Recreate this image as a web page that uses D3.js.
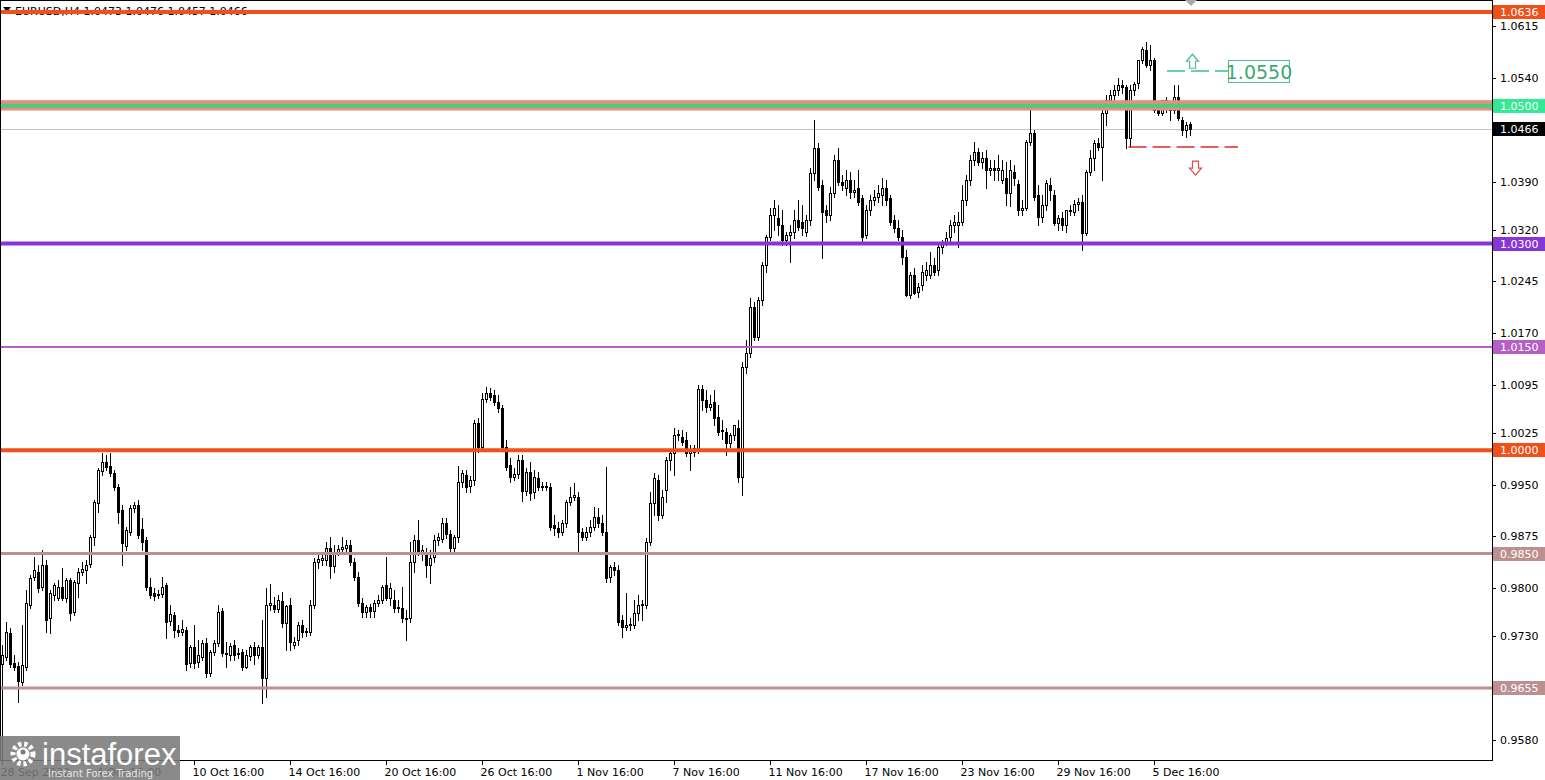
<!DOCTYPE html>
<html><head><meta charset="utf-8">
<script src="https://cdn.jsdelivr.net/npm/d3@7"></script>
<style>body{margin:0;background:#fff;overflow:hidden}svg{display:block}</style>
</head><body>
<svg id="c" width="1545" height="780"></svg>
<script>
// ---------------- DATA ----------------
const chartTitle = "EURUSD,H4  1.0473 1.0476 1.0457 1.0466";
const opens = [0.9690,0.9700,0.9735,0.9691,0.9687,0.9664,0.9685,0.9776,0.9816,0.9823,
0.9802,0.9834,0.9757,0.9790,0.9786,0.9802,0.9786,0.9812,0.9765,0.9807,
0.9823,0.9826,0.9835,0.9874,0.9924,0.9970,0.9983,0.9977,0.9967,0.9946,
0.9913,0.9861,0.9881,0.9916,0.9920,0.9885,0.9870,0.9802,0.9793,0.9790,
0.9791,0.9805,0.9752,0.9761,0.9739,0.9736,0.9739,0.9691,0.9714,0.9693,
0.9700,0.9720,0.9677,0.9707,0.9720,0.9767,0.9706,0.9703,0.9717,0.9704,
0.9707,0.9685,0.9701,0.9714,0.9703,0.9714,0.9670,0.9776,0.9776,0.9770,
0.9781,0.9749,0.9776,0.9717,0.9725,0.9747,0.9736,0.9736,0.9776,0.9838,
0.9841,0.9841,0.9858,0.9832,0.9852,0.9857,0.9858,0.9862,0.9838,0.9816,
0.9778,0.9765,0.9773,0.9767,0.9778,0.9783,0.9805,0.9786,0.9783,0.9771,
0.9771,0.9757,0.9757,0.9838,0.9870,0.9851,0.9848,0.9834,0.9845,0.9870,
0.9871,0.9894,0.9878,0.9858,0.9874,0.9954,0.9964,0.9948,0.9957,1.0039,
1.0004,1.0075,1.0083,1.0080,1.0070,1.0061,1.0004,0.9978,0.9961,0.9965,
0.9986,0.9941,0.9968,0.9939,0.9960,0.9946,0.9948,0.9946,0.9891,0.9887,
0.9881,0.9894,0.9925,0.9932,0.9932,0.9881,0.9874,0.9881,0.9889,0.9903,
0.9894,0.9881,0.9816,0.9831,0.9826,0.9754,0.9743,0.9747,0.9747,0.9764,
0.9776,0.9776,0.9867,0.9924,0.9957,0.9906,0.9942,0.9986,0.9996,1.0022,
1.0019,1.0015,0.9996,0.9997,1.0000,1.0089,1.0073,1.0063,1.0070,1.0048,
1.0029,1.0026,1.0010,1.0022,1.0033,0.9961,1.0121,1.0141,1.0208,1.0164,
1.0218,1.0269,1.0309,1.0341,1.0337,1.0327,1.0305,1.0312,1.0317,1.0334,
1.0331,1.0317,1.0334,1.0402,1.0439,1.0385,1.0349,1.0341,1.0373,1.0421,
1.0389,1.0380,1.0392,1.0375,1.0380,1.0366,1.0312,1.0349,1.0363,1.0367,
1.0370,1.0380,1.0366,1.0334,1.0323,1.0309,1.0280,1.0225,1.0254,1.0230,
1.0240,1.0254,1.0254,1.0269,1.0262,1.0295,1.0302,1.0309,1.0327,1.0327,
1.0331,1.0363,1.0392,1.0421,1.0433,1.0418,1.0424,1.0407,1.0409,1.0407,
1.0392,1.0395,1.0373,1.0404,1.0386,1.0349,1.0352,1.0447,1.0460,1.0370,
1.0338,1.0356,1.0385,1.0370,1.0330,1.0337,1.0327,1.0349,1.0346,1.0357,
1.0360,1.0315,1.0404,1.0424,1.0446,1.0440,1.0489,1.0508,1.0515,1.0523,
1.0530,1.0527,1.0453,1.0523,1.0533,1.0566,1.0581,1.0559,1.0566,1.0494,
1.0489,1.0508,1.0496,1.0494,1.0512,1.0479,1.0465,1.0473];
const highs = [0.9718,0.9751,0.9742,0.9703,0.9693,0.9747,0.9797,0.9819,0.9845,0.9834,
0.9855,0.9841,0.9797,0.9807,0.9812,0.9829,0.9815,0.9815,0.9812,0.9829,
0.9838,0.9841,0.9877,0.9928,0.9974,0.9996,0.9993,0.9996,0.9971,0.9951,
0.9920,0.9889,0.9920,0.9925,0.9928,0.9902,0.9874,0.9815,0.9800,0.9797,
0.9816,0.9807,0.9776,0.9765,0.9747,0.9754,0.9743,0.9717,0.9747,0.9725,
0.9725,0.9728,0.9710,0.9725,0.9776,0.9771,0.9722,0.9720,0.9725,0.9713,
0.9712,0.9710,0.9717,0.9722,0.9717,0.9754,0.9800,0.9806,0.9787,0.9790,
0.9794,0.9776,0.9786,0.9729,0.9751,0.9754,0.9742,0.9783,0.9844,0.9848,
0.9852,0.9867,0.9874,0.9862,0.9862,0.9874,0.9870,0.9870,0.9844,0.9823,
0.9786,0.9776,0.9777,0.9783,0.9790,0.9805,0.9845,0.9807,0.9797,0.9783,
0.9802,0.9768,0.9867,0.9877,0.9899,0.9862,0.9858,0.9855,0.9877,0.9880,
0.9902,0.9902,0.9884,0.9877,0.9977,0.9971,0.9971,0.9962,1.0044,1.0047,
1.0083,1.0092,1.0090,1.0087,1.0080,1.0066,1.0015,0.9989,0.9974,0.9993,
0.9993,0.9974,0.9983,0.9971,0.9968,0.9954,0.9954,0.9952,0.9906,0.9896,
0.9899,0.9928,0.9946,0.9952,0.9939,0.9887,0.9889,0.9899,0.9917,0.9916,
0.9906,0.9975,0.9834,0.9838,0.9834,0.9761,0.9793,0.9757,0.9783,0.9790,
0.9783,0.9872,0.9939,0.9967,0.9964,0.9942,0.9990,1.0000,1.0032,1.0029,
1.0029,1.0026,1.0007,1.0007,1.0095,1.0095,1.0087,1.0080,1.0087,1.0066,
1.0044,1.0032,1.0025,1.0036,1.0044,1.0128,1.0160,1.0221,1.0215,1.0222,
1.0273,1.0312,1.0352,1.0363,1.0356,1.0349,1.0317,1.0327,1.0349,1.0363,
1.0356,1.0341,1.0409,1.0479,1.0446,1.0392,1.0356,1.0382,1.0428,1.0439,
1.0399,1.0407,1.0404,1.0392,1.0407,1.0370,1.0356,1.0370,1.0378,1.0385,
1.0395,1.0392,1.0370,1.0341,1.0334,1.0320,1.0291,1.0259,1.0264,1.0243,
1.0269,1.0273,1.0288,1.0279,1.0298,1.0305,1.0317,1.0334,1.0341,1.0346,
1.0385,1.0399,1.0428,1.0447,1.0439,1.0433,1.0436,1.0421,1.0421,1.0428,
1.0421,1.0418,1.0421,1.0414,1.0392,1.0363,1.0450,1.0498,1.0465,1.0385,
1.0370,1.0392,1.0395,1.0378,1.0341,1.0346,1.0349,1.0356,1.0363,1.0366,
1.0370,1.0407,1.0436,1.0450,1.0453,1.0508,1.0515,1.0523,1.0530,1.0540,
1.0537,1.0530,1.0530,1.0534,1.0566,1.0585,1.0592,1.0588,1.0569,1.0501,
1.0508,1.0512,1.0505,1.0530,1.0530,1.0483,1.0476,1.0476];
const lows = [0.9536,0.9696,0.9685,0.9681,0.9635,0.9659,0.9681,0.9771,0.9812,0.9794,
0.9797,0.9736,0.9735,0.9783,0.9783,0.9783,0.9780,0.9754,0.9761,0.9787,
0.9819,0.9807,0.9831,0.9862,0.9910,0.9964,0.9971,0.9962,0.9942,0.9895,
0.9834,0.9855,0.9877,0.9910,0.9872,0.9855,0.9797,0.9786,0.9783,0.9786,
0.9787,0.9728,0.9747,0.9729,0.9730,0.9732,0.9681,0.9685,0.9684,0.9685,
0.9696,0.9671,0.9672,0.9703,0.9716,0.9701,0.9685,0.9696,0.9696,0.9699,
0.9681,0.9684,0.9696,0.9690,0.9699,0.9633,0.9642,0.9768,0.9765,0.9765,
0.9743,0.9710,0.9710,0.9713,0.9717,0.9729,0.9730,0.9732,0.9771,0.9829,
0.9834,0.9834,0.9815,0.9823,0.9848,0.9851,0.9852,0.9834,0.9812,0.9774,
0.9758,0.9758,0.9758,0.9758,0.9774,0.9778,0.9783,0.9776,0.9765,0.9765,
0.9751,0.9725,0.9751,0.9823,0.9848,0.9841,0.9816,0.9807,0.9838,0.9862,
0.9867,0.9872,0.9852,0.9852,0.9867,0.9946,0.9939,0.9939,0.9949,0.9997,
1.0000,1.0070,1.0073,1.0066,1.0055,1.0000,0.9971,0.9954,0.9957,0.9960,
0.9926,0.9935,0.9928,0.9930,0.9942,0.9942,0.9942,0.9884,0.9877,0.9874,
0.9877,0.9888,0.9920,0.9928,0.9852,0.9870,0.9870,0.9875,0.9884,0.9889,
0.9877,0.9809,0.9809,0.9819,0.9747,0.9729,0.9739,0.9739,0.9742,0.9754,
0.9754,0.9771,0.9862,0.9906,0.9899,0.9902,0.9925,0.9971,0.9964,1.0015,
1.0007,0.9991,0.9971,0.9991,0.9996,1.0058,1.0055,1.0058,1.0036,1.0022,
1.0017,0.9993,1.0004,1.0015,0.9954,0.9935,1.0112,1.0135,1.0160,1.0160,
1.0211,1.0259,1.0305,1.0320,1.0312,1.0298,1.0298,1.0273,1.0308,1.0320,
1.0312,1.0311,1.0327,1.0392,1.0378,1.0279,1.0331,1.0334,1.0367,1.0385,
1.0378,1.0370,1.0366,1.0367,1.0356,1.0302,1.0308,1.0341,1.0356,1.0360,
1.0356,1.0356,1.0327,1.0317,1.0305,1.0271,1.0224,1.0221,1.0227,1.0222,
1.0233,1.0247,1.0250,1.0254,1.0254,1.0286,1.0298,1.0302,1.0317,1.0295,
1.0327,1.0356,1.0385,1.0414,1.0414,1.0409,1.0380,1.0399,1.0392,1.0392,
1.0388,1.0356,1.0354,1.0385,1.0341,1.0341,1.0349,1.0443,1.0363,1.0327,
1.0331,1.0349,1.0363,1.0327,1.0320,1.0320,1.0317,1.0341,1.0341,1.0349,
1.0291,1.0312,1.0399,1.0407,1.0436,1.0392,1.0472,1.0501,1.0501,1.0515,
1.0518,1.0439,1.0440,1.0515,1.0525,1.0562,1.0556,1.0552,1.0491,1.0486,
1.0486,1.0491,1.0479,1.0489,1.0479,1.0457,1.0455,1.0457];
const closes = [0.9703,0.9736,0.9690,0.9685,0.9665,0.9688,0.9778,0.9815,0.9826,0.9800,
0.9834,0.9754,0.9793,0.9805,0.9802,0.9786,0.9812,0.9764,0.9809,0.9823,
0.9828,0.9834,0.9874,0.9925,0.9971,0.9983,0.9975,0.9967,0.9946,0.9910,
0.9866,0.9884,0.9916,0.9920,0.9877,0.9867,0.9802,0.9790,0.9789,0.9791,
0.9802,0.9751,0.9762,0.9739,0.9736,0.9741,0.9690,0.9714,0.9691,0.9703,
0.9720,0.9677,0.9707,0.9720,0.9765,0.9706,0.9704,0.9716,0.9703,0.9706,
0.9685,0.9703,0.9714,0.9703,0.9714,0.9670,0.9776,0.9778,0.9770,0.9783,
0.9749,0.9774,0.9722,0.9722,0.9747,0.9736,0.9738,0.9776,0.9838,0.9842,
0.9844,0.9858,0.9832,0.9852,0.9857,0.9860,0.9862,0.9838,0.9816,0.9778,
0.9765,0.9773,0.9767,0.9778,0.9783,0.9802,0.9786,0.9800,0.9771,0.9773,
0.9757,0.9755,0.9838,0.9870,0.9851,0.9855,0.9834,0.9844,0.9870,0.9874,
0.9894,0.9878,0.9858,0.9874,0.9954,0.9967,0.9946,0.9957,1.0039,1.0004,
1.0075,1.0083,1.0078,1.0070,1.0061,1.0004,0.9975,0.9961,0.9965,0.9986,
0.9941,0.9968,0.9938,0.9961,0.9946,0.9948,0.9946,0.9889,0.9887,0.9881,
0.9894,0.9925,0.9932,0.9935,0.9881,0.9874,0.9881,0.9889,0.9903,0.9894,
0.9881,0.9815,0.9831,0.9826,0.9751,0.9743,0.9747,0.9748,0.9764,0.9776,
0.9777,0.9867,0.9924,0.9960,0.9906,0.9932,0.9986,0.9996,1.0022,1.0023,
1.0012,0.9996,1.0000,1.0003,1.0089,1.0073,1.0063,1.0067,1.0047,1.0026,
1.0028,1.0010,1.0022,1.0036,0.9961,1.0121,1.0141,1.0208,1.0164,1.0218,
1.0269,1.0309,1.0341,1.0352,1.0327,1.0305,1.0312,1.0317,1.0334,1.0324,
1.0323,1.0334,1.0402,1.0439,1.0382,1.0346,1.0341,1.0373,1.0421,1.0389,
1.0385,1.0392,1.0375,1.0378,1.0360,1.0309,1.0349,1.0363,1.0367,1.0373,
1.0380,1.0363,1.0331,1.0323,1.0309,1.0280,1.0225,1.0254,1.0228,1.0237,
1.0259,1.0262,1.0269,1.0259,1.0295,1.0302,1.0308,1.0327,1.0331,1.0331,
1.0363,1.0392,1.0421,1.0433,1.0418,1.0424,1.0407,1.0409,1.0407,1.0409,
1.0407,1.0373,1.0407,1.0395,1.0349,1.0352,1.0447,1.0461,1.0367,1.0338,
1.0356,1.0388,1.0378,1.0330,1.0337,1.0327,1.0349,1.0347,1.0357,1.0360,
1.0315,1.0404,1.0424,1.0446,1.0440,1.0489,1.0508,1.0515,1.0523,1.0530,
1.0527,1.0453,1.0523,1.0531,1.0566,1.0582,1.0559,1.0566,1.0494,1.0489,
1.0508,1.0496,1.0494,1.0512,1.0482,1.0465,1.0472,1.0466];

const timeTickBars = [0,24,48,72,96,120,144,168,192,216,240,264,288];
const timeTickLabels = ["28 Sep 2022","4 Oct 16:00","10 Oct 16:00","14 Oct 16:00","20 Oct 16:00","26 Oct 16:00","1 Nov 16:00","7 Nov 16:00","11 Nov 16:00","17 Nov 16:00","23 Nov 16:00","29 Nov 16:00","5 Dec 16:00"];
const priceTicks = [1.0615,1.0540,1.0390,1.0320,1.0245,1.0170,1.0095,1.0025,0.9950,0.9875,0.9800,0.9730,0.9580];
const levelPrices = [1.0636,1.0500,1.0300,1.0150,1.0000,0.9850,0.9655];
const zoneBand = [1.0493,1.0508];
const currentPrice = 1.0466;
const targetUp = 1.0550;
const targetDown = 1.0440;
const priceRange = [0.95505,1.06534];

// ---------------- LAYOUT / STYLE ----------------
const W=1545,H=780, PR=1492, PB=760;
const levelStyle = {
  "1.0636":{c:"#f0501a",w:4},
  "1.05":{c:"#47cf7d",w:4,lab:"#34e895"},
  "1.03":{c:"#8636d6",w:4},
  "1.015":{c:"#b45ec6",w:2},
  "1":{c:"#f0501a",w:4},
  "0.985":{c:"#bc9090",w:3},
  "0.9655":{c:"#bc9090",w:3}
};
const svg=d3.select("#c");
const n=closes.length;
const x=d3.scaleBand().domain(d3.range(n)).range([0.5,0.5+4*n]).paddingInner(0.25).paddingOuter(0.125);
const y=d3.scaleLinear().domain(priceRange).range([PB,0]);
const cx=i=>x(i)+x.bandwidth()/2;
const fmt=d3.format(".4f");

svg.append("rect").attr("width",W).attr("height",H).attr("fill","#fff");
svg.append("clipPath").attr("id","pc").append("rect").attr("x",0).attr("y",0).attr("width",PR).attr("height",PB);
const plot=svg.append("g").attr("clip-path","url(#pc)");

// title
plot.append("path").attr("d","M3,7L11,7L7,12Z").attr("fill","#000");
plot.append("text").attr("x",15).attr("y",15).attr("font-family","DejaVu Sans").attr("font-size",11).attr("fill","#000").text(chartTitle);

// current price line
plot.append("line").attr("x1",0).attr("x2",PR).attr("y1",Math.round(y(currentPrice))+0.5).attr("y2",Math.round(y(currentPrice))+0.5).attr("stroke","#c4c4c4");

// candles
const cg=plot.append("g").attr("shape-rendering","crispEdges");
d3.range(n).forEach(i=>{
  const xc=Math.floor(cx(i))+0.5;
  cg.append("line").attr("x1",xc).attr("x2",xc).attr("y1",Math.round(y(highs[i]))).attr("y2",Math.round(y(lows[i]))+1).attr("stroke","#000");
  const yo=Math.round(y(opens[i])), yc=Math.round(y(closes[i]));
  const top=Math.min(yo,yc), h=Math.abs(yo-yc);
  const up=closes[i]>=opens[i];
  if(h<1){
    cg.append("line").attr("x1",xc-1.5).attr("x2",xc+1.5).attr("y1",top+0.5).attr("y2",top+0.5).attr("stroke","#000");
  } else {
    cg.append("rect").attr("x",xc-1).attr("y",top+0.5).attr("width",2).attr("height",h)
      .attr("fill",up?"#fff":"#000").attr("stroke","#000").attr("stroke-width",1);
  }
});

// zone band + levels
plot.append("rect").attr("x",0).attr("width",PR).attr("y",y(zoneBand[1])).attr("height",y(zoneBand[0])-y(zoneBand[1])).attr("fill","#e98d7f");
levelPrices.forEach(p=>{
  const s=levelStyle[String(p)];
  plot.append("line").attr("x1",0).attr("x2",PR).attr("y1",y(p)).attr("y2",y(p)).attr("stroke",s.c).attr("stroke-width",s.w);
});

// target annotations
const ann=plot.append("g");
const upStart=x(292)-2, boxX=1228;
const yUp=Math.round(y(targetUp)), yDn=Math.round(y(targetDown));
ann.append("line").attr("x1",upStart).attr("x2",boxX).attr("y1",yUp).attr("y2",yUp)
  .attr("stroke","#3fc08a").attr("stroke-width",1.6).attr("stroke-dasharray","18,6");
ann.append("rect").attr("x",boxX+0.5).attr("y",yUp-10.5).attr("width",61).attr("height",22)
  .attr("fill","#fff").attr("stroke","#4dbb8a").attr("shape-rendering","crispEdges");
ann.append("text").attr("x",boxX+31).attr("y",yUp+7.5).attr("text-anchor","middle")
  .attr("font-family","DejaVu Sans").attr("font-size",19).attr("fill","#3fa873").text(fmt(targetUp));
const dnStart=x(282)-0.5;
ann.append("line").attr("x1",dnStart).attr("x2",1238).attr("y1",yDn).attr("y2",yDn)
  .attr("stroke","#e02828").attr("stroke-width",1.6).attr("stroke-dasharray","18,6");
function arrow(xc,yt,dir,col){
  const p = dir<0
    ? [[0,0],[6,7],[3,7],[3,14],[-3,14],[-3,7],[-6,7]]
    : [[0,14],[6,7],[3,7],[3,0],[-3,0],[-3,7],[-6,7]];
  ann.append("path").attr("d","M"+p.map(q=>(xc+q[0])+","+(yt+q[1])).join("L")+"Z")
    .attr("fill","#fff").attr("stroke",col).attr("stroke-width",1.2);
}
arrow(1192.5,y(targetUp)-17,-1,"#4dbb8a");
arrow(1195.5,y(targetDown)+14,1,"#e04a4a");

// frame
const fr=svg.append("g").attr("shape-rendering","crispEdges").attr("stroke","#000");
fr.append("line").attr("x1",0.5).attr("x2",0.5).attr("y1",0).attr("y2",PB);
fr.append("line").attr("x1",0).attr("x2",PR).attr("y1",0.5).attr("y2",0.5);
fr.append("line").attr("x1",PR+0.5).attr("x2",PR+0.5).attr("y1",0).attr("y2",PB+1);
fr.append("line").attr("x1",0).attr("x2",PR+1).attr("y1",PB+0.5).attr("y2",PB+0.5);
svg.append("path").attr("d","M1185,0L1197,0L1191,6Z").attr("fill","#a8a8a8");

// price axis
const ax=svg.append("g").attr("font-family","DejaVu Sans").attr("font-size",11);
priceTicks.forEach(p=>{
  const yy=Math.round(y(p))+0.5;
  ax.append("line").attr("x1",PR).attr("x2",PR+4).attr("y1",yy).attr("y2",yy).attr("stroke","#000").attr("shape-rendering","crispEdges");
  ax.append("text").attr("x",1500).attr("y",yy).attr("dy","0.36em").attr("fill","#000").text(fmt(p));
});
function priceLabel(p,bg){
  const yy=Math.round(y(p));
  ax.append("rect").attr("x",PR+1).attr("y",yy-7).attr("width",W-PR-1).attr("height",14).attr("fill",bg);
  ax.append("text").attr("x",1500).attr("y",yy).attr("dy","0.36em").attr("fill","#fff").text(fmt(p));
}
levelPrices.forEach(p=>{const s=levelStyle[String(p)];priceLabel(p,s.lab||s.c);});
priceLabel(currentPrice,"#000");

// time axis
timeTickBars.forEach((b,k)=>{
  const xx=Math.floor(cx(b))+0.5;
  ax.append("line").attr("x1",xx).attr("x2",xx).attr("y1",PB).attr("y2",PB+5).attr("stroke","#000").attr("shape-rendering","crispEdges");
  ax.append("text").attr("x",xx-2).attr("y",776).attr("fill","#000").text(timeTickLabels[k]);
});

// watermark logo
const lg=svg.append("g");
lg.append("rect").attr("x",0).attr("y",736).attr("width",180).attr("height",44).attr("fill","#7a7a7a").attr("opacity",0.88);
lg.append("circle").attr("cx",23).attr("cy",754).attr("r",10).attr("fill","none").attr("stroke","#fff").attr("stroke-width",5).attr("stroke-dasharray","3.2,2.8");
lg.append("circle").attr("cx",23).attr("cy",754).attr("r",6.5).attr("fill","#fff");
lg.append("circle").attr("cx",23).attr("cy",752).attr("r",2.5).attr("fill","#7a7a7a");
lg.append("text").attr("x",42).attr("y",765).attr("font-family","Liberation Sans").attr("font-size",31).attr("fill","#fff").text("instaforex");
lg.append("text").attr("x",48).attr("y",777).attr("font-family","DejaVu Sans").attr("font-size",10).attr("fill","#e6e6e6").text("Instant Forex Trading");
</script>
</body></html>
